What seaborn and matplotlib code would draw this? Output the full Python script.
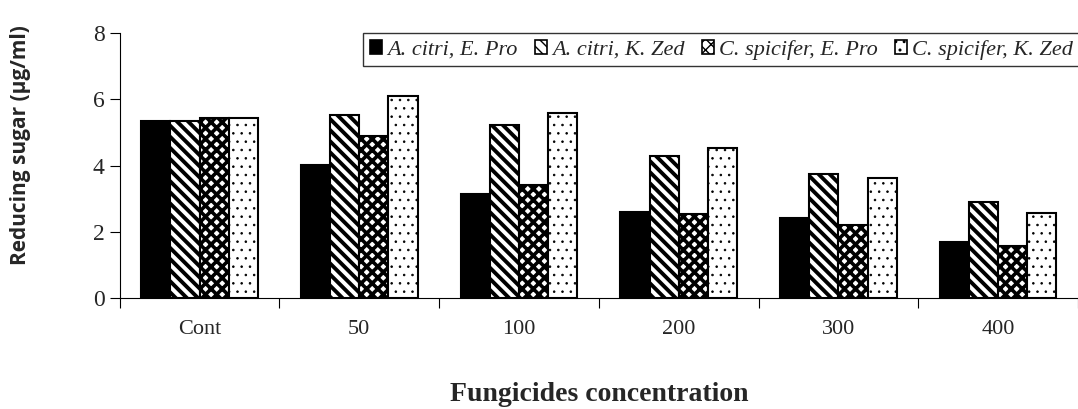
import pandas as pd
import matplotlib.pyplot as plt
import seaborn as sns
from matplotlib.patches import Patch

# ---- data ----
concentrations = ['Cont', '50', '100', '200', '300', '400']
series_names = ['A. citri, E. Pro', 'A. citri, K. Zed',
                'C. spicifer, E. Pro', 'C. spicifer, K. Zed']
citri_epro = [5.35, 4.02, 3.15, 2.6, 2.43, 1.71]
citri_kzed = [5.35, 5.53, 5.22, 4.3, 3.75, 2.91]
spicifer_epro = [5.45, 4.9, 3.42, 2.53, 2.2, 1.58]
spicifer_kzed = [5.45, 6.1, 5.6, 4.53, 3.63, 2.58]

values = [citri_epro, citri_kzed, spicifer_epro, spicifer_kzed]
rows = []
for name, vals in zip(series_names, values):
    for conc, v in zip(concentrations, vals):
        rows.append({'conc': conc, 'series': name, 'sugar': v})
df = pd.DataFrame(rows)

sns.set_style('white')
plt.rcParams['font.family'] = ['Liberation Serif', 'DejaVu Serif']

fig = plt.figure(figsize=(10.78, 4.09), dpi=100)
ax = fig.add_axes([0.111, 0.271, 0.889, 0.648])

sns.barplot(data=df, x='conc', y='sugar', hue='series', order=concentrations,
            hue_order=series_names, width=0.73, gap=0, ax=ax,
            edgecolor='black', linewidth=1.5, legend=False)

# fills: solid black, diagonal stripes, diamonds, dots  (face, hatch, hatch lw)
styles = [('black', '', 1.0), ('white', '\\\\\\', 2.8), ('white', 'xxx', 2.6), ('white', '..', 0.6)]
for cont, (fc, hatch, hlw) in zip(ax.containers, styles):
    for bar in cont:
        bar.set_facecolor(fc)
        bar.set_hatch(hatch)
        if hasattr(bar, 'set_hatch_linewidth'):
            bar.set_hatch_linewidth(hlw)

handles = []
for (fc, h, hlw), n in zip(styles, series_names):
    p = Patch(facecolor=fc, edgecolor='black', hatch=h, linewidth=1.2, label=n)
    if hasattr(p, 'set_hatch_linewidth'):
        p.set_hatch_linewidth(min(hlw, 1.5))
    handles.append(p)
ax.legend(handles=handles, loc='upper left', bbox_to_anchor=(0.254, 1.0), ncol=4,
          frameon=True, fancybox=False, edgecolor='black', borderaxespad=0,
          handlelength=0.55, handleheight=0.55, handletextpad=0.25, columnspacing=0.75,
          borderpad=0.3,
          prop={'family': 'Liberation Serif', 'style': 'italic', 'size': 16})
ax.get_legend().get_frame().set_linewidth(1.0)

ax.set_ylim(0, 8)
ax.set_yticks([0, 2, 4, 6, 8])
ax.set_xlim(-0.5, 5.5)
ax.set_xticks(range(len(concentrations)))
ax.set_xticklabels(concentrations)
ax.set_xticks([i - 0.5 for i in range(len(concentrations) + 1)], minor=True)
ax.tick_params(axis='x', which='major', length=0, pad=16, labelsize=16)
ax.tick_params(axis='x', which='minor', length=7, width=0.8, color='black', bottom=True)
ax.tick_params(axis='y', length=7, width=0.8, color='black', left=True, labelsize=17, pad=4)

for side in ['top', 'right']:
    ax.spines[side].set_visible(False)
for side in ['left', 'bottom']:
    ax.spines[side].set_color('black')
    ax.spines[side].set_linewidth(0.8)

ax.set_xlabel('Fungicides concentration', fontsize=20, fontweight='bold', labelpad=31)
ax.set_ylabel('Reducing sugar (µg/ml)', fontsize=15, fontweight='bold', family='Open Sans')
ax.yaxis.set_label_coords(-0.092, 0.577)

plt.savefig('out.png', dpi=100)
